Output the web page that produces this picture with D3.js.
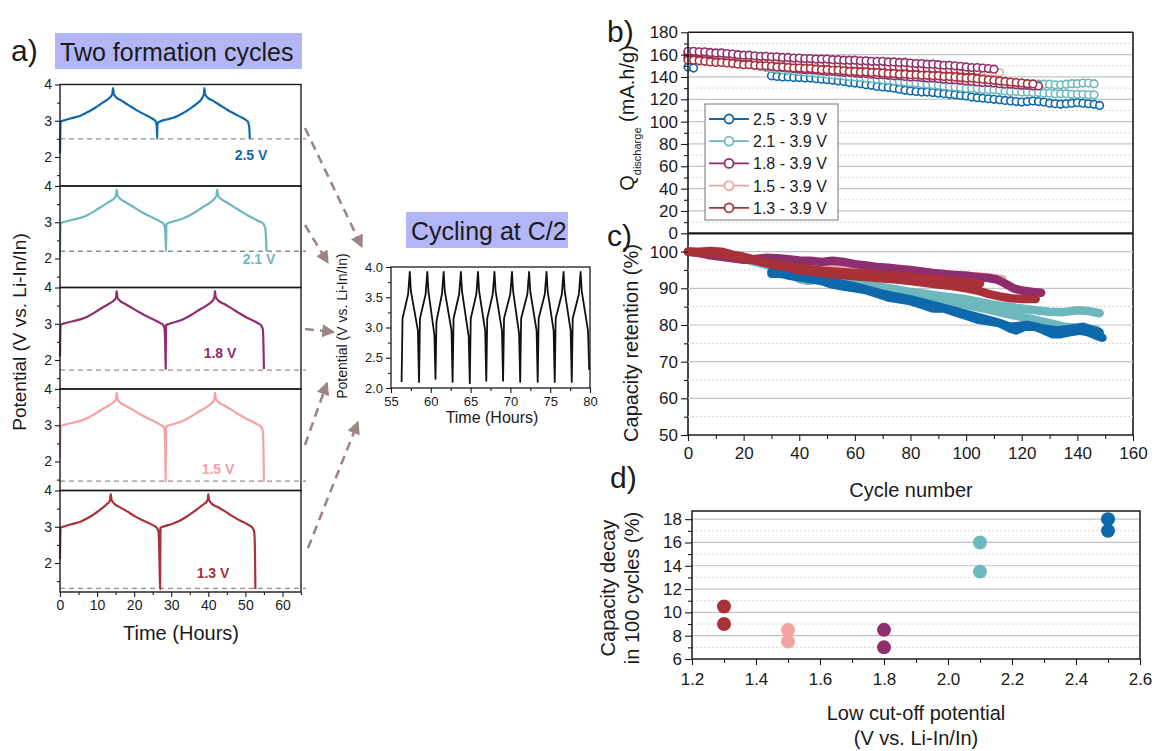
<!DOCTYPE html>
<html><head><meta charset="utf-8">
<script src="https://cdn.jsdelivr.net/npm/d3@7/dist/d3.min.js"></script>
<style>
html,body{margin:0;padding:0;background:#fff;}
svg{display:block;font-family:"Liberation Sans",Arial,Helvetica,sans-serif;}
</style></head><body>
<svg id="fig" width="1152" height="751"></svg>
<script>
// ================= DATA =================
// panel a : two formation cycles, [time (h), potential (V)]
const cutoffLabels = ['2.5 V', '2.1 V', '1.8 V', '1.5 V', '1.3 V'];
const cutoffLines  = [2.5, 2.2, 1.72, 1.46, 1.3];
const conditionColors = ['#0d69ab', '#6cb8bd', '#8f2e6e', '#f4a2a2', '#a8313a'];
const legendLabels = ['2.5 - 3.9 V', '2.1 - 3.9 V', '1.8 - 3.9 V', '1.5 - 3.9 V', '1.3 - 3.9 V'];

const form25 = [[0,2.1],[0.15,2.97],[1.5,3.02],[3.5,3.08],[5.5,3.14],[7.5,3.24],[9.5,3.36],[11.5,3.5],[13,3.6],[13.8,3.68],[14.1,3.74],[14.3,3.9],[14.5,3.74],[15,3.66],[16.5,3.56],[18.5,3.43],[20.5,3.3],[22.5,3.19],[24,3.11],[25.2,3.04],[25.8,2.98],[26.1,2.85],[26.2,2.5],[26.3,2.93],[27,2.98],[29,3.04],[31,3.1],[33,3.2],[35,3.33],[37,3.48],[38.2,3.6],[38.6,3.68],[38.8,3.74],[38.95,3.9],[39.1,3.74],[39.7,3.65],[41.3,3.55],[43.3,3.42],[45.3,3.29],[47.3,3.18],[48.8,3.1],[50,3.03],[50.7,2.97],[51.05,2.8],[51.2,2.5]];
const form21 = [[0,2.05],[0.15,2.97],[1.5,3.02],[3.5,3.07],[5.5,3.12],[7.5,3.2],[9.5,3.32],[11.5,3.45],[13.5,3.58],[14.6,3.66],[15.1,3.74],[15.3,3.9],[15.5,3.74],[16.1,3.66],[17.5,3.56],[19.5,3.44],[21.5,3.31],[23.5,3.2],[25.5,3.1],[26.8,3.03],[27.8,2.97],[28.3,2.85],[28.5,2.5],[28.6,2.2],[28.7,2.95],[29.5,2.99],[31.5,3.05],[33.5,3.12],[35.5,3.22],[37.5,3.35],[39.5,3.48],[41.2,3.6],[41.9,3.68],[42.2,3.74],[42.4,3.9],[42.6,3.74],[43.2,3.66],[44.8,3.56],[46.8,3.43],[48.8,3.3],[50.8,3.18],[52.5,3.09],[53.8,3.02],[54.8,2.96],[55.3,2.85],[55.6,2.5],[55.7,2.2]];
const form18 = [[0,2.1],[0.15,2.97],[1.5,3.02],[3.5,3.07],[5.5,3.12],[7.5,3.2],[9.5,3.32],[11.5,3.45],[13.5,3.57],[14.6,3.65],[15.1,3.72],[15.3,3.9],[15.5,3.72],[16.1,3.64],[17.5,3.55],[19.5,3.43],[21.5,3.31],[23.5,3.2],[25.5,3.1],[26.8,3.03],[27.8,2.97],[28.2,2.85],[28.4,2.3],[28.5,1.75],[28.6,2.96],[29.5,3.0],[31.5,3.06],[33.5,3.14],[35.5,3.25],[37.5,3.38],[39.5,3.5],[40.8,3.6],[41.4,3.67],[41.65,3.74],[41.8,3.9],[42,3.74],[42.6,3.65],[44.2,3.55],[46.2,3.43],[48.2,3.3],[50.2,3.18],[52,3.09],[53.3,3.02],[54.2,2.96],[54.7,2.85],[54.9,2.3],[55,1.75]];
const form15 = [[0,2.12],[0.15,2.97],[1.5,3.02],[3.5,3.07],[5.5,3.12],[7.5,3.2],[9.5,3.32],[11.5,3.45],[13.5,3.57],[14.6,3.65],[15.1,3.72],[15.3,3.9],[15.5,3.72],[16.1,3.64],[17.5,3.55],[19.5,3.43],[21.5,3.31],[23.5,3.2],[25.5,3.1],[26.8,3.03],[27.8,2.96],[28.2,2.85],[28.4,2.2],[28.5,1.45],[28.6,2.96],[29.5,3.0],[31.5,3.06],[33.5,3.14],[35.5,3.25],[37.5,3.38],[39.5,3.5],[40.8,3.6],[41.4,3.67],[41.65,3.74],[41.8,3.9],[42,3.74],[42.6,3.65],[44.2,3.55],[46.2,3.43],[48.2,3.3],[50.2,3.18],[52,3.09],[53.3,3.02],[54.2,2.96],[54.7,2.85],[54.9,2.2],[55,1.45]];
const form13 = [[0,2.1],[0.15,2.97],[1.5,3.02],[3.5,3.08],[5.5,3.14],[7.5,3.24],[9.5,3.37],[11.5,3.52],[12.6,3.62],[13.2,3.68],[13.5,3.74],[13.7,3.9],[13.9,3.74],[14.5,3.65],[16,3.55],[18,3.43],[20,3.3],[22,3.19],[24,3.1],[25.3,3.03],[26.2,2.96],[26.6,2.85],[26.8,2.2],[27,1.28],[27.1,2.97],[28,3.01],[30,3.07],[32,3.15],[34,3.27],[36,3.41],[37.8,3.55],[39,3.64],[39.6,3.7],[39.85,3.76],[40,3.9],[40.2,3.74],[40.8,3.65],[42.4,3.55],[44.4,3.43],[46.4,3.3],[48.4,3.18],[50,3.1],[51.2,3.03],[52,2.96],[52.4,2.85],[52.6,2.2],[52.7,1.28]];
const formationSeries = [form25, form21, form18, form15, form13];

// inset : cycling at C/2, [time (h), potential (V)]
const cyclingC2 = [[56.33,2.1],[56.45,3.15],[57.15,3.55],[57.36,3.92],[57.5,3.6],[58.38,2.95],[58.52,2.1],[58.64,3.15],[59.35,3.55],[59.56,3.92],[59.7,3.6],[60.45,2.88],[60.59,2.15],[60.71,3.1],[61.4,3.55],[61.62,3.92],[61.76,3.6],[62.6,2.95],[62.74,2.1],[62.86,3.15],[63.56,3.55],[63.78,3.92],[63.92,3.6],[64.76,2.85],[64.9,2.08],[65.02,3.15],[65.72,3.55],[65.93,3.92],[66.07,3.6],[66.83,2.95],[66.97,2.12],[67.09,3.15],[67.78,3.55],[68.0,3.92],[68.14,3.6],[68.94,2.95],[69.08,2.12],[69.2,3.15],[69.98,3.55],[70.2,3.92],[70.34,3.6],[71.09,2.9],[71.23,2.1],[71.35,3.15],[72.13,3.55],[72.35,3.92],[72.49,3.6],[73.29,2.95],[73.43,2.1],[73.55,3.15],[74.32,3.55],[74.54,3.92],[74.68,3.6],[75.43,2.95],[75.57,2.1],[75.69,3.15],[76.46,3.55],[76.68,3.92],[76.82,3.6],[77.57,2.95],[77.71,2.1],[77.83,3.15],[78.6,3.55],[78.82,3.92],[78.96,3.6],[79.75,2.95],[79.9,2.3]];

// panel b : discharge capacity (mA.h/g), one value every 2 cycles from "start"
const qBlueStart = [149, 148];                                 // cycles 0,2
const qBlue   = [141,140.5,140,140,139.5,139.5,139,139,138.5,138, 137.5,137,136.5,136,135,134.5,134,133,132.5,131.5, 131,130.5,130,129,128,127.5,127,126.5,126.5,126, 125.5,125,124.5,124,123.5,123,122,121.5,121,120.5, 120,119.5,119,118.5,118,117.5,118,118.5,118,117.5, 116.5,116,115.5,116,116.5,117,116.5,116,115.5,114.5]; // from cycle 30
const qTealA  = [161,160.5,160,159.5,159,158.5,158,157.5,157,156.5, 156,155,154,153,152,151,150,149.5,149,148.5, 148,147.5,147.5,147,147,146.5,146,146,145.5,145, 145,144.5,144,144,143.5,143,142.5,142,142,141.5, 141,140.5,140,140,139.5,139,138.5,138,138,137.5, 137,137,136.5,136,136,135.5,135.5,135,135,134.5, 134.5,134,134,133.5,133.5,133.5,133,133,133.5,134, 134,134.5,134.5,134];
const qTealB  = [157.5,157,156.5,156,155.5,155,154.5,154,153.5,153, 152.5,151.5,150.5,149.5,148.5,147.5,147,146.5,146,145.5, 145,144.5,144,143.5,143,142.5,142,141.5,141,140.5, 140,139.5,139,138.5,138,137.5,137,136.5,136,135.5, 135,134.5,134,133.5,133,132.5,132,131.5,131,130.5, 130,130,129.5,129,128.5,128.5,128,127.5,127,127, 126.5,126.5,126,126,125.5,125.5,125,125,125,124.5, 124.5,124.5,124,124];
const qPurpleA = [163,163,162.5,162.5,162,161.5,161.5,161,160.5,160, 159.5,159.5,159,158.5,158.5,158,158,157.5,157.5,157, 157,156.5,156.5,156,156,156,155.5,155.5,155,155, 155,154.5,154.5,154,154,154,153.5,153.5,153,153, 152.5,152,152,151.5,151.5,151,150.5,150.5,150,149.5, 149,148.5,148.5,148,147.5,147];
const qPurpleB = [157,156.5,156,155.5,155,154.5,154,153.5,153,152.5, 152,151.5,151,150.5,150,149.5,149,148.5,148,147.5, 147,146.5,146.5,146,145.5,145,145,144.5,144,144, 143.5,143,143,142.5,142,142,141.5,141,141,140.5, 140,140,139.5,139,139,138.5,138,137.5,137.5,137, 136.5,136,135.5,135,135,134.5,134,133.5,133.5,133, 132.5,132.5,132,132];
const qPink   = [160,160,159.5,159,159,158.5,158,158,157.5,157, 156.5,156.5,156,155.5,155.5,155,154.5,154.5,154,154, 153.5,153.5,153,153,152.5,152.5,152,152,151.5,151.5, 151,151,150.5,150,150,149.5,149.5,149,149,148.5, 148.5,148,148,147.5,147.5,147,147,146.5,146.5,146, 145.5,145.5,145,145,144.5,144.5,144];
const qRedA   = [155,155,154.5,154,153.5,153,153,152.5,152,151.5, 151,151,150.5,150,150,149.5,149,149,148.5,148, 148,147.5,147.5,147,146.5,146.5,146,146,145.5,145, 145,144.5,144.5,144,144,143.5,143,143,142.5,142.5, 142,142,141.5,141.5,141,141,140.5,140.5,140,139.5, 139,139,138.5,138,137.5,137,136.5,136,135.5,135, 134.5,134,133.7];
const qRedB   = [162,162,161.5,161,160.5,160,159.5,159,158.5,158, 157.5,157,156.5,156,155.5,155,155,154.5,154,154, 153.5,153.5,153,153,152.5,152.5,152,152,151.5,151.5, 151,151,150.5,150.5,150,150,149.5,149.5,149,149, 148.5,148.5,148,148,147.5,147.5,147,147,146.5,146.5, 146,146,145.5];

// panel c : capacity retention (%), [cycle, %]
const rBlueA  = [[30,94],[33,94],[36,93.5],[40,93],[44,92.5],[48,92],[52,91],[56,90.5],[60,90],[64,89.5],[68,88.5],[72,87.5],[76,87],[80,86.5],[84,85.5],[88,84.5],[92,84.5],[96,83.5],[100,82.5],[104,81.5],[108,81],[112,80.5],[116,79],[118,78.5],[121,79.5],[125,79.5],[128,78.5],[131,77.5],[134,77.5],[137,78],[141,78.5],[144,78],[147,77],[149,76.5]];
const rBlueB  = [[30,94.5],[40,93.5],[50,92],[60,90.5],[70,88.5],[80,87],[90,85],[100,83],[105,82],[110,81],[116,79.5],[122,80],[128,79],[133,78.5],[138,79],[142,79.5],[146,78.5],[148,78]];
const rTealA  = [[0,100],[5,99.8],[10,99.5],[15,99],[20,98.3],[25,97.5],[30,96.3],[35,94.5],[40,92.6],[43,92],[46,92.3],[50,92.3],[55,91.8],[60,91.3],[65,90.8],[70,90.3],[75,89.7],[80,89],[85,88.5],[90,88],[95,87.5],[100,87],[105,86.3],[110,85.5],[115,85],[120,84.5],[125,84],[130,83.6],[135,83.5],[140,84],[144,83.8],[148,83.2]];
const rTealB  = [[0,100],[10,99.3],[20,98],[30,96],[40,93.5],[50,91.8],[60,90.3],[70,89],[80,88],[90,86.5],[100,85.5],[108,84.2],[115,83],[123,81.7],[130,80.5],[135,79.6],[140,79.2],[144,79],[147,78.7]];
const rPink   = [[0,100],[10,99],[20,98],[30,97.3],[40,96.6],[50,96],[60,95.5],[70,95],[80,94.5],[90,94],[100,93.5],[108,93],[113,92.5]];
const rPurple = [[0,100],[4,99.6],[8,99],[12,98.6],[16,98.2],[20,97.8],[24,98],[28,98.3],[32,98.2],[36,97.9],[40,97.6],[44,97.5],[48,97.2],[52,97.5],[56,97.2],[60,96.6],[64,96.2],[68,95.8],[72,95.6],[76,95.3],[80,95],[84,94.6],[88,94.2],[92,93.9],[96,93.6],[100,93.4],[104,93.1],[108,92.8],[111,92.4],[114,91.3],[117,90],[120,89.4],[124,89],[127,88.8]];
const rRedA   = [[0,100],[4,100],[8,100.2],[12,100],[16,99.2],[20,98.6],[24,97.8],[28,97],[32,96.4],[36,96],[40,95.6],[44,95.2],[48,94.8],[52,94.6],[56,94.4],[60,94.2],[64,94],[68,93.8],[72,93.6],[76,93.4],[80,93.1],[84,92.8],[88,92.6],[92,92.3],[96,92],[100,91.6],[103,91.5],[105,91.3]];
const rRedB   = [[0,100],[5,99.8],[10,99.6],[15,99],[20,98.2],[25,97.4],[30,96.5],[35,95.8],[40,95],[45,94.5],[50,94],[55,93.6],[60,93.3],[65,93],[70,92.7],[75,92.4],[80,92],[85,91.5],[90,91],[95,90.6],[100,90],[104,89.4],[108,88.5],[112,87.8],[116,87.3],[120,87.1],[125,87.1]];

// panel d : capacity decay in 100 cycles
const decayCutoff = [1.3, 1.3, 1.5, 1.5, 1.8, 1.8, 2.1, 2.1, 2.5, 2.5];
const decayValue  = [10.5, 9, 8.5, 7.5, 8.5, 7, 16, 13.5, 18, 17];
const decayColorIndex = [4, 4, 3, 3, 2, 2, 1, 1, 0, 0];

// ================= DRAWING =================
const svg = d3.select('#fig');
const INK = '#1a1a1a';
const ARROW = '#9d8585';

function axisStyle(g, fs) {
  g.select('.domain').remove();
  g.selectAll('line').attr('stroke', INK).attr('stroke-width', 1.1);
  g.selectAll('text').attr('fill', INK).attr('font-size', fs).attr('font-family', '"Liberation Sans",Arial,sans-serif');
}
function leftAxis(x, scale, majors, minors, fmt, fs, len, mlen, pad) {
  const gm = svg.append('g').attr('transform', `translate(${x},0)`)
    .call(d3.axisLeft(scale).tickValues(minors).tickFormat('').tickSize(mlen).tickSizeOuter(0));
  axisStyle(gm, fs);
  const g = svg.append('g').attr('transform', `translate(${x},0)`)
    .call(d3.axisLeft(scale).tickValues(majors).tickFormat(fmt).tickSize(len).tickSizeOuter(0).tickPadding(pad));
  axisStyle(g, fs);
  return g;
}
function bottomAxis(y, scale, majors, minors, fmt, fs, len, mlen, pad) {
  const gm = svg.append('g').attr('transform', `translate(0,${y})`)
    .call(d3.axisBottom(scale).tickValues(minors).tickFormat('').tickSize(mlen).tickSizeOuter(0));
  axisStyle(gm, fs);
  const g = svg.append('g').attr('transform', `translate(0,${y})`)
    .call(d3.axisBottom(scale).tickValues(majors).tickFormat(fmt).tickSize(len).tickSizeOuter(0).tickPadding(pad));
  axisStyle(g, fs);
  return g;
}
function frame(x0, y0, x1, y1, w) {
  svg.append('rect').attr('x', x0).attr('y', y0).attr('width', x1 - x0).attr('height', y1 - y0)
    .attr('fill', 'none').attr('stroke', INK).attr('stroke-width', w || 1.3);
}
function label(x, y, txt, fs, opts) {
  opts = opts || {};
  const t = svg.append('text').attr('x', x).attr('y', y).text(txt)
    .attr('font-size', fs).attr('fill', opts.fill || INK)
    .attr('text-anchor', opts.anchor || 'start');
  if (opts.weight) t.attr('font-weight', opts.weight);
  if (opts.rotate) t.attr('transform', `rotate(-90,${x},${y})`);
  return t;
}
function grid(scale, x0, x1, solid, dotted) {
  svg.append('g').selectAll('line').data(dotted).join('line')
    .attr('x1', x0).attr('x2', x1).attr('y1', d => scale(d)).attr('y2', d => scale(d))
    .attr('stroke', '#d6d6d6').attr('stroke-width', 1).attr('stroke-dasharray', '2,2');
  svg.append('g').selectAll('line').data(solid).join('line')
    .attr('x1', x0).attr('x2', x1).attr('y1', d => scale(d)).attr('y2', d => scale(d))
    .attr('stroke', '#c4c4c4').attr('stroke-width', 1.2);
}

// ---------- panel a ----------
label(11, 61, 'a)', 30);
svg.append('rect').attr('x', 55).attr('y', 33).attr('width', 247).attr('height', 36).attr('fill', '#b3b6f6');
label(60, 61, 'Two formation cycles', 25);

const aX = d3.scaleLinear().domain([0, 65]).range([60, 301]);
const aTop = 84.5, aH = 101.5;
formationSeries.forEach((data, i) => {
  const y0 = aTop + i * aH;
  const y = d3.scaleLinear().domain([1.2, 4.0]).range([y0 + aH, y0]);
  svg.append('line').attr('x1', aX(0)).attr('x2', 306)
    .attr('y1', y(cutoffLines[i])).attr('y2', y(cutoffLines[i]))
    .attr('stroke', '#9a8a8a').attr('stroke-width', 1.3).attr('stroke-dasharray', '5,4');
  svg.append('path').datum(data)
    .attr('d', d3.line().x(d => aX(d[0])).y(d => y(d[1])).curve(d3.curveMonotoneX))
    .attr('fill', 'none').attr('stroke', conditionColors[i]).attr('stroke-width', 2.2).attr('stroke-linejoin', 'round');
  leftAxis(aX(0), y, [2, 3, 4], [1.5, 2.5, 3.5], d3.format('d'), 14, 5, 3, 3);
  frame(aX(0), y0, aX(65), y0 + aH, 1.4);
  const lx = [251, 259, 220, 218, 213][i];
  const ly = [160, 264, 358, 474, 578][i];
  label(lx, ly, cutoffLabels[i], 14, {anchor: 'middle', weight: 'bold', fill: conditionColors[i]});
});
bottomAxis(aTop + 5 * aH, aX, d3.range(0, 61, 10), d3.range(5, 66, 10), d3.format('d'), 14, 5, 3, 3);
label(181, 640, 'Time (Hours)', 20, {anchor: 'middle'});
label(26, 332, 'Potential (V vs. Li-In/In)', 19, {anchor: 'middle', rotate: true});

// arrows
const defs = svg.append('defs');
defs.append('marker').attr('id', 'ah').attr('viewBox', '0 0 10 10').attr('refX', 9).attr('refY', 5)
  .attr('markerWidth', 6).attr('markerHeight', 5).attr('markerUnits', 'strokeWidth').attr('orient', 'auto')
  .append('path').attr('d', 'M0,0 L10,5 L0,10 Z').attr('fill', ARROW);
[[[305,128],[362,247]], [[305,225],[328,263]], [[305,329],[334,332]], [[305,445],[327,383]], [[308,548],[358,422]]]
  .forEach(p => {
    svg.append('line').attr('x1', p[0][0]).attr('y1', p[0][1]).attr('x2', p[1][0]).attr('y2', p[1][1])
      .attr('stroke', ARROW).attr('stroke-width', 2.6).attr('stroke-dasharray', '9,6').attr('marker-end', 'url(#ah)');
  });

// ---------- inset ----------
svg.append('rect').attr('x', 406).attr('y', 212).attr('width', 162).attr('height', 36).attr('fill', '#b3b6f6');
label(411, 240, 'Cycling at C/2', 25);
const iX = d3.scaleLinear().domain([55, 80]).range([391, 590]);
const iY = d3.scaleLinear().domain([2.0, 4.0]).range([388, 267]);
svg.append('path').datum(cyclingC2)
  .attr('d', d3.line().x(d => iX(d[0])).y(d => iY(d[1])))
  .attr('fill', 'none').attr('stroke', '#111').attr('stroke-width', 1.8).attr('stroke-linejoin', 'round');
leftAxis(iX(55), iY, d3.range(2, 4.01, 0.5), d3.range(2.25, 4, 0.5), d3.format('.1f'), 13, 5, 3, 3);
bottomAxis(iY(2), iX, d3.range(55, 81, 5), d3.range(57.5, 80, 5), d3.format('d'), 13, 5, 3, 4);
frame(iX(55), iY(4), iX(80), iY(2), 1.3);
label(492, 423, 'Time (Hours)', 16, {anchor: 'middle'});
label(347, 326, 'Potential (V vs. Li-In/In)', 14, {anchor: 'middle', rotate: true});

// ---------- panel b ----------
const bX = d3.scaleLinear().domain([0, 160]).range([688, 1133]);
const bY = d3.scaleLinear().domain([0, 180]).range([233.3, 32.3]);
grid(bY, 688, 1133, d3.range(20, 161, 20), d3.range(10, 171, 20));
const toPts = (vals, start) => vals.map((v, i) => [start + 2 * i, v]);
const bSeries = [
  {pts: toPts(qBlueStart, 0), c: 0}, {pts: toPts(qBlue, 30), c: 0},
  {pts: toPts(qTealB, 0), c: 1}, {pts: toPts(qTealA, 0), c: 1},
  {pts: toPts(qPink, 0), c: 3}, {pts: toPts(qPurpleB, 0), c: 2},
  {pts: toPts(qRedB, 0), c: 4}, {pts: toPts(qRedA, 0), c: 4},
  {pts: toPts(qPurpleA, 0), c: 2}
];
bSeries.forEach(s => {
  const g = svg.append('g');
  g.append('path').datum(s.pts).attr('d', d3.line().x(d => bX(d[0])).y(d => bY(d[1])))
    .attr('fill', 'none').attr('stroke', conditionColors[s.c]).attr('stroke-width', 1.4);
  g.selectAll('circle').data(s.pts).join('circle')
    .attr('cx', d => bX(d[0])).attr('cy', d => bY(d[1])).attr('r', 3.8)
    .attr('fill', '#fff').attr('stroke', conditionColors[s.c]).attr('stroke-width', 1.6);
});
leftAxis(688, bY, d3.range(0, 181, 20), d3.range(10, 180, 20), d3.format('d'), 17, 7, 4, 3);
svg.append('line').attr('x1', 688).attr('x2', 1133).attr('y1', 32.3).attr('y2', 32.3).attr('stroke', INK).attr('stroke-width', 1.6);
svg.append('line').attr('x1', 1133).attr('x2', 1133).attr('y1', 32.3).attr('y2', 435).attr('stroke', INK).attr('stroke-width', 1.6);
svg.append('line').attr('x1', 688).attr('x2', 688).attr('y1', 32.3).attr('y2', 435).attr('stroke', INK).attr('stroke-width', 1.6);
// legend
const lg = svg.append('g');
lg.append('rect').attr('x', 705).attr('y', 104).attr('width', 133).attr('height', 116)
  .attr('fill', '#fff').attr('stroke', '#8a8a8a').attr('stroke-width', 1.2);
legendLabels.forEach((t, i) => {
  const yy = 119 + i * 22.2;
  lg.append('line').attr('x1', 709).attr('x2', 749).attr('y1', yy).attr('y2', yy)
    .attr('stroke', conditionColors[i]).attr('stroke-width', 1.8);
  lg.append('circle').attr('cx', 729).attr('cy', yy).attr('r', 4.5)
    .attr('fill', '#fff').attr('stroke', conditionColors[i]).attr('stroke-width', 1.8);
  lg.append('text').attr('x', 753).attr('y', yy + 6).text(t).attr('font-size', 16).attr('fill', INK);
});
label(607, 42, 'b)', 30);
const qt = svg.append('text').attr('transform', 'translate(634,118) rotate(-90)')
  .attr('text-anchor', 'middle').attr('font-size', 20).attr('fill', INK);
qt.append('tspan').text('Q');
qt.append('tspan').text('discharge').attr('font-size', 11).attr('dy', 7);
qt.append('tspan').text(' (mA.h/g)').attr('dy', -7);

// ---------- panel c ----------
const cY = d3.scaleLinear().domain([50, 105]).range([435, 233.3]);
grid(cY, 688, 1133, d3.range(60, 101, 10), d3.range(55, 101, 10));
const cSeries = [[rTealB, 1], [rTealA, 1], [rBlueB, 0], [rBlueA, 0], [rPink, 3], [rPurple, 2], [rRedB, 4], [rRedA, 4]];
cSeries.forEach(s => {
  svg.append('path').datum(s[0]).attr('d', d3.line().x(d => bX(d[0])).y(d => cY(d[1])))
    .attr('fill', 'none').attr('stroke', conditionColors[s[1]]).attr('stroke-width', 8.5)
    .attr('stroke-linecap', 'round').attr('stroke-linejoin', 'round');
});
leftAxis(688, cY, d3.range(50, 101, 10), d3.range(55, 101, 10), d3.format('d'), 17, 7, 4, 3);
bottomAxis(435, bX, d3.range(0, 161, 20), d3.range(10, 160, 20), d3.format('d'), 17, 6, 4, 6);
svg.append('line').attr('x1', 688).attr('x2', 1133).attr('y1', 233.3).attr('y2', 233.3).attr('stroke', INK).attr('stroke-width', 2.2);
svg.append('line').attr('x1', 688).attr('x2', 1133).attr('y1', 435).attr('y2', 435).attr('stroke', INK).attr('stroke-width', 1.6);
label(607, 246, 'c)', 30);
label(638, 343, 'Capacity retention (%)', 20, {anchor: 'middle', rotate: true});
label(911, 497, 'Cycle number', 20, {anchor: 'middle'});

// ---------- panel d ----------
const dX = d3.scaleLinear().domain([1.2, 2.6]).range([692, 1140]);
const dY = d3.scaleLinear().domain([6, 18.7]).range([659, 511]);
grid(dY, 692, 1140, d3.range(8, 19, 2), d3.range(7, 18, 2));
svg.append('g').selectAll('circle').data(decayValue).join('circle')
  .attr('cx', (d, i) => dX(decayCutoff[i])).attr('cy', d => dY(d)).attr('r', 7)
  .attr('fill', (d, i) => conditionColors[decayColorIndex[i]]);
leftAxis(692, dY, d3.range(6, 19, 2), d3.range(7, 18, 2), d3.format('d'), 17, 7, 4, 3);
bottomAxis(659, dX, d3.range(1.2, 2.61, 0.2), d3.range(1.3, 2.6, 0.2), d3.format('.1f'), 17, 6, 4, 8);
frame(692, 511, 1140, 659, 1.5);
label(610, 488, 'd)', 30);
label(615, 588, 'Capacity decay', 20, {anchor: 'middle', rotate: true});
label(639, 588, 'in 100 cycles (%)', 20, {anchor: 'middle', rotate: true});
label(916, 720, 'Low cut-off potential', 20, {anchor: 'middle'});
label(916, 745, '(V vs. Li-In/In)', 20, {anchor: 'middle'});
</script>
</body></html>
